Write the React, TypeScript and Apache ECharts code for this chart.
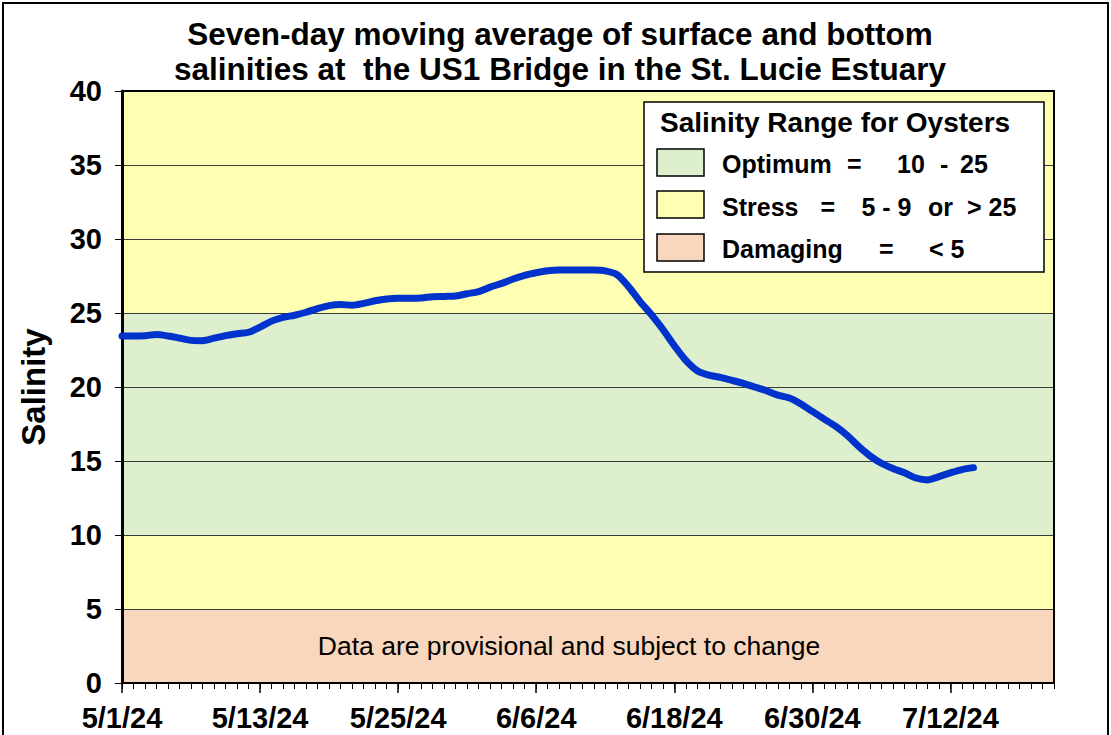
import React, { useEffect, useRef } from "react";
import * as echarts from "echarts";

// Daily dates shown on the axis (5/1/24 .. 7/21/24)
const startDate = { year: 2024, month: 5, day: 1 };
const axisDays = 82;
function makeDates(): string[] {
  const out: string[] = [];
  const d = new Date(startDate.year, startDate.month - 1, startDate.day);
  for (let i = 0; i < axisDays; i++) {
    out.push(`${d.getMonth() + 1}/${d.getDate()}/24`);
    d.setDate(d.getDate() + 1);
  }
  return out;
}
const dates = makeDates();

// Seven-day moving average salinity, 5/1/24 .. 7/14/24
const salinity = [
  23.45, 23.45, 23.47, 23.55, 23.45, 23.3, 23.15, 23.13, 23.3, 23.47,
  23.6, 23.7, 24.05, 24.45, 24.7, 24.85, 25.05, 25.3, 25.5, 25.58,
  25.52, 25.65, 25.83, 25.95, 26.0, 26.0, 26.02, 26.1, 26.12, 26.15,
  26.3, 26.45, 26.75, 27.0, 27.3, 27.55, 27.72, 27.85, 27.9, 27.9,
  27.9, 27.9, 27.85, 27.6, 26.8, 25.8, 24.9, 23.9, 22.8, 21.8,
  21.1, 20.8, 20.65, 20.45, 20.25, 20.0, 19.75, 19.45, 19.25, 18.85,
  18.35, 17.85, 17.35, 16.75, 16.0, 15.35, 14.85, 14.5, 14.2, 13.85,
  13.72, 13.95, 14.2, 14.42, 14.55,
];

const yMin = 0;
const yMax = 40;
const yInterval = 5;
const majorEvery = 12;

// Oyster salinity bands
const bandLower = [0, 5, 10, 25];
const bandUpper = [5, 10, 25, 40];
const bandColors = ["#F9D7BE", "#FFFFB3", "#DDEFCC", "#FFFFB3"];

const legendTitle = "Salinity Range for Oysters";
const legendColors = ["#DDEFCC", "#FFFFB3", "#F9D7BE"];

const FONT = "'Liberation Sans', Arial, Helvetica, sans-serif";

export default function App() {
  const ref = useRef<HTMLDivElement>(null);
  useEffect(() => {
    if (!ref.current) return;
    const chart = echarts.init(ref.current, undefined, { renderer: "svg" });

    const legendText = (x: number, y: number, text: string) => ({
      type: "text",
      x,
      y,
      z: 100,
      style: {
        text,
        fill: "#000",
        font: `bold 25px ${FONT}`,
        align: "left",
        verticalAlign: "middle",
      },
    });
    const swatch = (y: number, color: string) => ({
      type: "rect",
      z: 100,
      shape: { x: 657, y, width: 47, height: 27 },
      style: { fill: color, stroke: "#000", lineWidth: 1.5 },
    });

    const option: any = {
      animation: false,
      backgroundColor: "#fff",
      title: {
        text: "Seven-day moving average of surface and bottom\nsalinities at  the US1 Bridge in the St. Lucie Estuary",
        left: 555,
        top: 11,
        textAlign: "center",
        textStyle: {
          fontFamily: FONT,
          fontWeight: "bold",
          fontSize: 31.5,
          lineHeight: 35,
          color: "#000",
          align: "center",
        },
      },
      grid: {
        left: 122,
        right: 57,
        top: 91,
        bottom: 52,
        show: true,
        z: 3,
        borderColor: "#000",
        borderWidth: 2,
        backgroundColor: "transparent",
      },
      xAxis: [
        {
          type: "category",
          data: dates,
          boundaryGap: false,
          z: 4,
          axisLine: { show: true, lineStyle: { color: "#000", width: 2 } },
          axisTick: { show: true, interval: 0, length: 6, lineStyle: { color: "#000", width: 1 } },
          axisLabel: {
            interval: majorEvery - 1,
            margin: 20,
            fontFamily: FONT,
            fontWeight: "bold",
            fontSize: 29,
            color: "#000",
          },
          splitLine: { show: false },
        },
        {
          type: "category",
          data: dates,
          boundaryGap: false,
          position: "bottom",
          z: 4,
          axisLine: { show: false },
          axisTick: { show: true, interval: majorEvery - 1, length: 10, lineStyle: { color: "#000", width: 1.5 } },
          axisLabel: { show: false },
          splitLine: { show: false },
        },
      ],
      yAxis: {
        type: "value",
        min: yMin,
        max: yMax,
        interval: yInterval,
        z: 2,
        name: "Salinity",
        nameLocation: "middle",
        nameRotate: 90,
        nameGap: 72,
        nameTextStyle: {
          fontFamily: FONT,
          fontWeight: "bold",
          fontSize: 33,
          color: "#000",
        },
        axisLine: { show: true, lineStyle: { color: "#000", width: 3 } },
        axisTick: { show: true, length: 7, lineStyle: { color: "#000", width: 1 } },
        axisLabel: {
          margin: 20,
          fontFamily: FONT,
          fontWeight: "bold",
          fontSize: 29,
          color: "#000",
        },
        splitLine: { show: true, lineStyle: { color: "#3a3a3a", width: 1 } },
      },
      series: [
        {
          type: "line",
          data: salinity,
          xAxisIndex: 0,
          z: 5,
          smooth: 0.3,
          showSymbol: false,
          symbol: "none",
          lineStyle: { color: "#0033CC", width: 7, cap: "round", join: "round" },
          markArea: {
            silent: true,
            itemStyle: { borderWidth: 0 },
            label: { show: false },
            data: bandLower.map((lo, i) => [
              { yAxis: lo, itemStyle: { color: bandColors[i], opacity: 1 } },
              { yAxis: bandUpper[i] },
            ]),
          },
        },
      ],
      graphic: [
        {
          type: "rect",
          z: 0,
          silent: true,
          shape: { x: 3, y: 3, width: 1105, height: 800 },
          style: { fill: "none", stroke: "#000", lineWidth: 2 },
        },
        {
          type: "rect",
          z: 99,
          shape: { x: 644, y: 102, width: 400, height: 170 },
          style: { fill: "#fff", stroke: "#000", lineWidth: 1.5 },
        },
        {
          type: "text",
          x: 660,
          y: 122,
          z: 100,
          style: {
            text: legendTitle,
            fill: "#000",
            font: `bold 28px ${FONT}`,
            align: "left",
            verticalAlign: "middle",
          },
        },
        swatch(149, legendColors[0]),
        swatch(191, legendColors[1]),
        swatch(234, legendColors[2]),
        legendText(722, 164, "Optimum"),
        legendText(847, 164, "="),
        legendText(897, 164, "10"),
        legendText(940, 164, "-"),
        legendText(960, 164, "25"),
        legendText(722, 207, "Stress"),
        legendText(820.5, 207, "="),
        legendText(861.5, 207, "5 - 9"),
        legendText(928, 207, "or"),
        legendText(967, 207, "> 25"),
        legendText(722, 249, "Damaging"),
        legendText(879, 249, "="),
        legendText(929, 249, "< 5"),
        {
          type: "text",
          x: 569,
          y: 646,
          z: 100,
          style: {
            text: "Data are provisional and subject to change",
            fill: "#000",
            font: `26.5px ${FONT}`,
            align: "center",
            verticalAlign: "middle",
          },
        },
      ],
    };
    chart.setOption(option);
    return () => chart.dispose();
  }, []);
  return (
    <div
      ref={ref}
      style={{ position: "fixed", left: 0, top: 0, width: 1111, height: 735 }}
    />
  );
}
